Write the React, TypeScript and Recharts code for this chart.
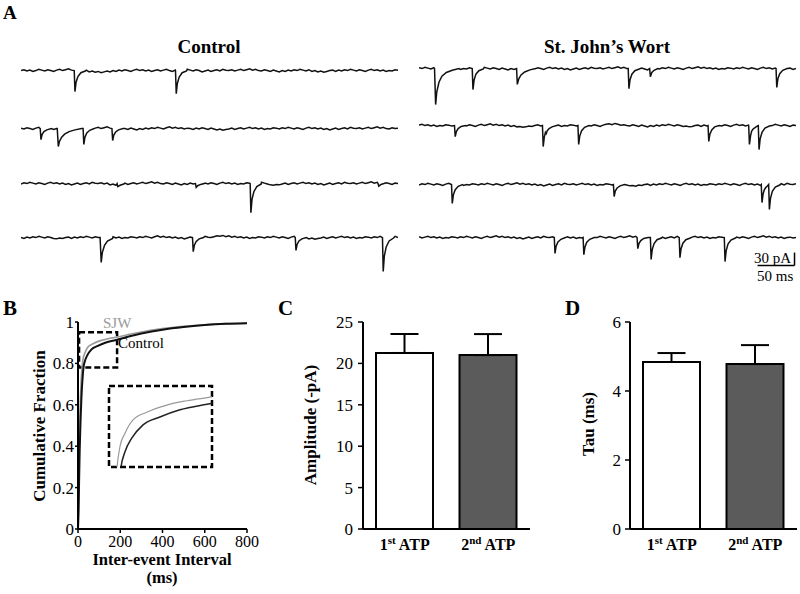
import React from 'react';
import {
  LineChart,
  Line,
  XAxis,
  YAxis,
  ReferenceArea,
  ReferenceLine,
  BarChart,
  Bar,
  ErrorBar,
  Cell,
} from 'recharts';

const FONT = "'Liberation Serif', 'Times New Roman', Times, serif";

/* ---------------- Panel A: sample traces (pA vs ms) ---------------- */
const TRACE_MS = 510;

const noiseCtl1 = [
  0, 2, -1, 1, -2, 0, 3, 1, -1, 2, 0, -2, 1, 3, 0, 2, 4, 1, 5, 3, 2, -1, 1, -3, -1, -4, -2, -5, -3, -1,
  -3, 0, -2, 1, -1, 2, 0, -2, 1, 3, 0, 2, -1, 1, -2, 0, 2, -1, 1, 3, 0, -2, 1, -1, 2, 0, 3, 1, -1, 2,
  0, -3, -1, 1, -2, 0, 2, -1, 3, 1, 0, 2, -1, 1, 3, 0, 2, 4, 1, 3, 0, -1, 2, 0, -2, 1, -1, -3, 0, -2,
  1, -1, 2, 0, 3, 1, -1, 2, -2, 0, -3, -1, -4, -2, 0, 1, -2, 1, -1, 2, 0, 3, 1, -1, 2, 0, -2, 1, 3, 0,
  2, -1, 1, -2, 0, -1, 2, 1,
];
const noiseCtl2 = [
  1, -1, 2, 0, -2, 1, 3, 0, 2, -1, 1, -2, 0, -3, -1, 1, -2, 0, 2, -1, 3, 1, 0, 2, -1, 1, 3, 0, 2, 4,
  1, 3, 0, -1, 2, 0, -2, 1, -1, -3, 0, -2, 1, -1, 2, 0, 3, 1, -1, 2, 4, 1, 3, 0, 2, -1, 1, 0, -2, 1,
  -1, 2, 0, -2, 1, -1, -3, -1, -4, -2, -1, 1, -2, 0, 2, -1, 1, 3, 0, 2, -1, 1, -2, 0, -1, 2, 1, -1, 2, 0,
  3, 1, -1, 2, 0, -2, 1, 3, 0, 2, -1, 1, -2, 0, -3, -1, 1, -2, 0, 2, -1, 3, 1, 0, 2, -1, 1, 3, 0, 2,
  4, 1, 3, 0, -1, 2, 0, 1,
];
const noiseCtl3 = [
  -1, 2, 0, 3, 1, -1, 2, 0, -2, 1, 3, 0, 2, -1, 1, -2, 0, -3, -1, 1, -2, 0, 2, -1, 3, 1, 0, 2, -1, 1,
  -3, -1, -4, -2, -1, 1, -2, 0, 2, -1, 1, 3, 0, 2, 4, 1, 3, 0, -1, 2, 0, -2, 1, -1, -3, 0, -2, 1, -1, 2,
  0, 3, 1, -1, 2, 0, -2, 1, 3, 0, 2, -1, 1, -2, 0, -1, 2, 1, -1, 2, 0, 3, 1, -1, -3, -4, -2, -3, -1, 1,
  -2, 0, 2, -1, 1, 3, 0, 2, -1, 1, -2, 0, -3, -1, 1, -2, 0, 2, -1, 3, 1, 0, 2, -1, 1, 3, 0, 2, 4, 1,
  3, 0, -1, 2, 0, -2, 1, 0,
];
const noiseCtl4 = [
  0, -2, 1, -1, 2, 0, 3, 1, -1, 2, 0, -2, -3, -1, -2, 0, 1, -2, 1, -1, 2, 0, 3, 1, -1, 2, 0, -2, 1, 3,
  0, 2, -1, 1, -2, 0, -1, 2, 1, -1, 2, 0, 3, 1, -1, 2, 4, 1, 3, 0, 2, -1, 1, -2, 0, -3, -1, 1, -2, 0,
  2, -1, 3, 1, 0, 2, 4, 3, 5, 2, 4, 1, 3, 0, 2, -1, 1, -2, 0, -1, 2, 1, -1, 2, 0, 3, 1, -1, 2, 0,
  -2, 1, 3, 0, 2, -1, 1, -3, -1, -4, -2, -1, 1, -2, 0, 2, -1, 1, 3, 0, 2, -1, 1, -2, 0, -1, 2, 1, -1, 2,
  0, 3, 4, 2, 5, 1, 3, 0,
];
const noiseSjw1 = [
  2, 0, 3, 1, -1, 2, 0, -2, 1, 3, 0, 2, -1, 1, -2, 0, -1, 2, 1, -1, 2, 0, 3, 1, -1, 2, 0, -2, 1, -1,
  -3, 0, -2, 1, -1, 2, 0, 3, 1, -1, 2, 0, -2, 1, 3, 0, 2, -1, 1, -2, 0, -3, -1, 1, -2, 0, 2, -1, 3, 1,
  0, 2, -1, 1, 3, 0, 2, 4, 1, 3, 0, -1, 2, 0, -2, 1, -1, -3, 0, -2, 1, -1, 2, 0, 3, 1, -1, 2, 0, -2,
  1, 3, 0, 2, 4, 1, 3, 0, 2, -1, 1, -2, 0, -1, 2, 1, -1, 2, 0, 3, 1, -1, 2, 0, -2, 1, 3, 0, 2, -1,
  1, -2, 0, -3, -1, 1, -2, 0,
];
const noiseSjw2 = [
  1, 3, 0, 2, -1, 1, -2, 0, -1, 2, 1, -1, 2, 0, 3, 1, -1, 2, 0, -2, 1, 3, 0, 2, 4, 1, 3, 0, 2, -1,
  1, -2, 0, -3, -2, -4, -3, -1, -2, 0, 2, -1, 1, 3, 0, 2, -1, 1, -2, 0, -1, 2, 1, -1, 2, 0, 3, 1, -1, 2,
  0, -2, 1, 3, 4, 2, 5, 3, 1, 2, 0, -1, 2, 0, -2, 1, -1, -3, 0, -2, 1, -1, 2, 0, 3, 1, -1, 2, 0, -2,
  -1, -3, -2, 0, 1, -2, 1, -1, 2, 0, 3, 1, -1, 2, 0, -2, 1, 3, 0, 2, -1, 1, -2, 0, -1, 2, 1, -1, 2, 0,
  3, 1, -1, 2, 0, -2, 1, 0,
];
const noiseSjw3 = [
  -1, 2, 0, 3, 1, -1, 2, 0, -2, 1, 3, 0, 2, -1, 1, -2, 0, -1, 2, 1, -1, 2, 0, 3, 1, -1, 2, 0, -2, 1,
  3, 0, 2, 4, 1, 3, 0, 2, -1, 1, -2, 0, -3, -1, 1, -2, 0, 2, -1, 3, 1, 0, 2, -1, 1, 3, 0, 2, -1, 1,
  -2, 0, -1, 2, 1, -1, 2, 0, 3, 1, -1, -3, -2, -4, -1, -2, 0, 1, -2, 1, -1, 2, 0, 3, 1, -1, 2, 0, -2, 1,
  3, 0, 2, -1, 1, -2, 0, -1, 2, 1, -1, 2, 0, 3, 1, -1, 2, 0, -2, 1, 3, 0, 2, -1, 1, -2, 0, -3, -1, 1,
  -2, 0, 2, -1, 3, 1, 0, 2,
];
const noiseSjw4 = [
  2, -1, 1, 3, 0, 2, -1, 1, -2, 0, -1, 2, 1, -1, 2, 0, 3, 1, -1, 2, 0, -2, 1, 3, 0, 2, 4, 1, 3, 0,
  2, -1, 1, -2, 0, -3, -1, 1, -2, 0, 2, -1, 3, 1, 0, 2, -1, 1, 3, 0, 2, -1, 1, -2, 0, -1, 2, 1, -1, 2,
  0, 3, 1, -1, 2, 0, -2, 1, 3, 0, 2, 4, 1, 3, 0, 2, -1, 1, -2, 0, -3, -1, 1, -2, 0, 2, -1, 3, 1, 0,
  2, -1, 1, 3, 0, 2, -1, 1, -2, 0, -1, 2, 1, -1, 2, 0, 3, 1, -1, 2, 0, -2, 1, 3, 0, 2, 4, 1, 3, 0,
  2, -1, 1, -2, 0, 1, -1, 0,
];

// spontaneous events: [ms, pA] points
const spikesCtl1 = [
  [[72, 0], [73, -49], [74.5, -27], [77, -14], [81, -5], [87, -1]],
  [[209, 0], [210, -54], [211.5, -30], [214, -15], [218, -5], [224, -1]],
];
const spikesCtl2 = [
  [[26, 0], [27, -26], [28.5, -14], [31, -7], [35, -3], [41, 0]],
  [[49, 0], [50.5, -42], [52, -30], [55, -20], [59, -13], [65, -7], [73, -3], [82, 0]],
  [[84, 0], [85, -37], [86.5, -20], [89, -10], [93, -4], [99, 0]],
  [[123, 0], [124, -28], [125.5, -15], [128, -8], [132, -3], [138, 0]],
];
const spikesCtl3 = [
  [[130, 0], [131, -7], [134, -4], [139, -1]],
  [[236, 0], [237, -9], [239, -5], [243, -2], [248, 0]],
  [[310, 0], [311, -68], [312.5, -37], [315, -19], [319, -7], [325, -1]],
  [[483, 0], [484, -6], [487, -2], [491, 0]],
];
const spikesCtl4 = [
  [[107, 0], [108.5, -58], [110, -35], [113, -18], [117, -8], [124, -2]],
  [[232, 0], [233, -33], [234.5, -18], [237, -9], [241, -3], [247, 0]],
  [[371, 0], [372, -30], [373.5, -16], [376, -8], [380, -3], [386, 0]],
  [[489, 0], [490, -79], [491.5, -43], [494, -22], [498, -8], [504, -1]],
];
const spikesSjw1 = [
  [[21, 0], [22.5, -84], [24, -55], [27, -32], [31, -18], [37, -9], [45, -4], [54, 0]],
  [[72, 0], [73, -49], [74.5, -27], [77, -13], [81, -5], [87, -1]],
  [[132, 0], [133, -37], [135, -24], [138, -15], [143, -8], [150, -3], [158, 0]],
  [[283, 0], [284, -47], [285.5, -26], [288, -13], [292, -5], [298, -1]],
  [[312, 0], [313, -19], [315, -9], [318, -4], [323, 0]],
  [[483, 0], [484, -44], [485.5, -24], [488, -12], [492, -4], [498, 0]],
];
const spikesSjw2 = [
  [[48, 0], [49, -26], [50.5, -14], [53, -7], [57, -2], [63, 0]],
  [[167, 0], [168, -49], [169.5, -27], [171, -16], [172, -19], [173.5, -12], [176, -7], [180, -3], [186, 0]],
  [[215, 0], [216, -44], [217.5, -24], [220, -12], [224, -4], [230, 0]],
  [[391, 0], [392, -37], [393.5, -20], [396, -10], [400, -3], [406, 0]],
  [[446, 0], [447, -44], [448.5, -24], [450, -13], [452, -8], [455, -4], [457, -2]],
  [[459, 0], [460, -56], [461.5, -31], [464, -16], [468, -6], [474, -1]],
];
const spikesSjw3 = [
  [[44, 0], [45, -44], [46.5, -24], [49, -12], [53, -4], [59, 0]],
  [[263, 0], [264, -28], [265.5, -15], [268, -8], [272, -3], [278, 0]],
  [[463, 0], [464, -42], [465.5, -22], [467, -13], [469, -7], [471, -4]],
  [[473, 0], [474, -58], [475.5, -32], [478, -16], [482, -6], [488, -1]],
];
const spikesSjw4 = [
  [[183, 0], [184, -37], [185.5, -20], [188, -10], [192, -4], [198, 0]],
  [[222, 0], [223, -40], [224.5, -22], [227, -11], [231, -4], [237, 0]],
  [[295, 0], [296, -26], [297.5, -14], [300, -7], [304, -2], [310, 0]],
  [[313, 0], [314, -51], [315.5, -28], [318, -14], [322, -5], [328, -1]],
  [[352, 0], [353, -47], [354.5, -26], [357, -13], [361, -5], [367, -1]],
  [[413, 0], [414, -56], [415.5, -31], [418, -15], [422, -6], [428, -1]],
];

// scale bar: 50 ms x 30 pA
const scaleBarMs = [458, 508];
const scaleBarPA = [-35, -65];

type Pt = { t: number; v: number };
function buildTrace(noise: number[], spikes: number[][][]): Pt[] {
  const pts: Pt[] = [];
  const step = TRACE_MS / (noise.length - 1);
  noise.forEach((v, i) => {
    const t = i * step;
    const inside = spikes.some((s) => t >= s[0][0] && t <= s[s.length - 1][0]);
    if (!inside) pts.push({ t, v });
  });
  spikes.forEach((s) => s.forEach(([t, v]) => pts.push({ t, v })));
  pts.sort((a, b) => a.t - b.t);
  return pts;
}

const controlTraces = [
  buildTrace(noiseCtl1, spikesCtl1),
  buildTrace(noiseCtl2, spikesCtl2),
  buildTrace(noiseCtl3, spikesCtl3),
  buildTrace(noiseCtl4, spikesCtl4),
];
const sjwTraces = [
  buildTrace(noiseSjw1, spikesSjw1),
  buildTrace(noiseSjw2, spikesSjw2),
  buildTrace(noiseSjw3, spikesSjw3),
  buildTrace(noiseSjw4, spikesSjw4),
];

/* ---------------- Panel B: cumulative inter-event interval ---------------- */
const sjwIntervalMs = [0, 2, 4, 6, 9, 12, 15, 19, 24, 33, 47, 71, 106, 141, 185, 250, 300, 400, 500, 600, 700, 800];
const sjwFraction = [0, 0.1, 0.25, 0.4, 0.55, 0.65, 0.72, 0.78, 0.822, 0.851, 0.879, 0.895, 0.91, 0.919, 0.927, 0.942, 0.952, 0.968, 0.979, 0.987, 0.992, 0.995];
const ctlIntervalMs = [0, 3, 5, 8, 12, 16, 21, 26, 33, 45, 64, 94, 129, 185, 250, 300, 400, 500, 600, 700, 800];
const ctlFraction = [0, 0.1, 0.22, 0.38, 0.52, 0.63, 0.72, 0.78, 0.812, 0.841, 0.868, 0.885, 0.9, 0.914, 0.932, 0.944, 0.963, 0.976, 0.985, 0.991, 0.994];
const intervalTicks = [0, 200, 400, 600, 800];
const fractionTicks = [0, 0.2, 0.4, 0.6, 0.8, 1];
const zoomBoxMs = [5, 185];
const zoomBoxFraction = [0.78, 0.95];

const sjwCdf = sjwIntervalMs.map((t, i) => ({ t, f: sjwFraction[i] }));
const ctlCdf = ctlIntervalMs.map((t, i) => ({ t, f: ctlFraction[i] }));

/* ---------------- Panels C & D ---------------- */
const atpCategories = ['1st ATP', '2nd ATP'];
const amplitudeMean = [21.26, 21.0];
const amplitudeSem = [2.29, 2.54];
const amplitudeTicks = [0, 5, 10, 15, 20, 25];
const tauMean = [4.84, 4.78];
const tauSem = [0.26, 0.55];
const tauTicks = [0, 2, 4, 6];
const barFills = ['#ffffff', '#5b5b5b'];

const ampData = atpCategories.map((name, i) => ({ name, v: amplitudeMean[i], e: [0, amplitudeSem[i]] }));
const tauData = atpCategories.map((name, i) => ({ name, v: tauMean[i], e: [0, tauSem[i]] }));

/* ---------------- components ---------------- */
const TRACE_W = 377;
const TRACE_H = 60;
const TRACE_DOMAIN: [number, number] = [-120, 20];
const baseOffset = (TRACE_DOMAIN[1] / (TRACE_DOMAIN[1] - TRACE_DOMAIN[0])) * TRACE_H;

function Trace({ data, left, baseY, scaleBar }: { data: Pt[]; left: number; baseY: number; scaleBar?: boolean }) {
  return (
    <div style={{ position: 'absolute', left, top: baseY - baseOffset, width: TRACE_W, height: TRACE_H }}>
      <LineChart width={TRACE_W} height={TRACE_H} data={data} margin={{ top: 0, right: 0, bottom: 0, left: 0 }}>
        <XAxis type="number" dataKey="t" domain={[0, TRACE_MS]} hide />
        <YAxis type="number" domain={TRACE_DOMAIN} hide />
        <Line
          dataKey="v"
          type="linear"
          stroke="#111"
          strokeWidth={1.5}
          dot={false}
          isAnimationActive={false}
        />
        {scaleBar && (
          <ReferenceLine
            segment={[
              { x: scaleBarMs[1], y: scaleBarPA[0] },
              { x: scaleBarMs[1], y: scaleBarPA[1] },
            ]}
            stroke="#000"
            strokeWidth={1.5}
          />
        )}
        {scaleBar && (
          <ReferenceLine
            segment={[
              { x: scaleBarMs[0], y: scaleBarPA[1] },
              { x: scaleBarMs[1], y: scaleBarPA[1] },
            ]}
            stroke="#000"
            strokeWidth={1.5}
          />
        )}
      </LineChart>
    </div>
  );
}

const tickStyle = { fill: '#000', fontSize: 17, fontFamily: FONT };
const xTickStyle = { fill: '#000', fontSize: 16, fontFamily: FONT };
const axisLineStyle = { stroke: '#000', strokeWidth: 2 };
const tickLineStyle = { stroke: '#000', strokeWidth: 1.5 };

function CatTick(props: any) {
  const { x, y, payload } = props;
  const m = /^(\d+)(st|nd|rd|th) (.*)$/.exec(String(payload.value)) || ['', String(payload.value), '', ''];
  return (
    <text x={x} y={y + 21} textAnchor="middle" fontFamily={FONT} fontWeight="bold" fontSize={16} fill="#000">
      <tspan>{m[1]}</tspan>
      <tspan dy={-6} fontSize={11}>
        {m[2]}
      </tspan>
      <tspan dy={6}>{' ' + m[3]}</tspan>
    </text>
  );
}

function BarPanel({
  data,
  left,
  yAxisWidth,
  rightMargin,
  domain,
  ticks,
  tickMargin,
}: {
  data: { name: string; v: number; e: number[] }[];
  left: number;
  yAxisWidth: number;
  rightMargin: number;
  domain: [number, number];
  ticks: number[];
  tickMargin: number;
}) {
  return (
    <div style={{ position: 'absolute', left, top: 290 }}>
      <BarChart
        width={270}
        height={300}
        data={data}
        margin={{ top: 32, right: rightMargin, bottom: 0, left: 0 }}
        barSize={57}
      >
        <XAxis
          dataKey="name"
          height={61}
          tickLine={false}
          tickSize={0}
          tickMargin={0}
          axisLine={axisLineStyle}
          tick={<CatTick />}
          interval={0}
        />
        <YAxis
          type="number"
          domain={domain}
          ticks={ticks}
          interval={0}
          width={yAxisWidth}
          tickSize={5}
          tickMargin={tickMargin}
          axisLine={axisLineStyle}
          tickLine={tickLineStyle}
          tick={tickStyle}
        />
        <Bar dataKey="v" stroke="#000" strokeWidth={2} isAnimationActive={false}>
          {data.map((d, i) => (
            <Cell key={d.name} fill={barFills[i]} />
          ))}
          <ErrorBar dataKey="e" direction="y" width={14} stroke="#000" strokeWidth={2} />
        </Bar>
      </BarChart>
    </div>
  );
}

export default function App() {
  const ctlBase = [71, 129, 184, 238];
  const sjwBase = [69, 126, 185, 238];
  return (
    <div
      style={{
        position: 'absolute',
        left: 0,
        top: 0,
        width: 800,
        height: 594,
        background: '#fff',
        overflow: 'hidden',
        fontFamily: FONT,
      }}
    >
      {controlTraces.map((d, i) => (
        <Trace key={'c' + i} data={d} left={21} baseY={ctlBase[i]} />
      ))}
      {sjwTraces.map((d, i) => (
        <Trace key={'s' + i} data={d} left={419} baseY={sjwBase[i]} scaleBar={i === 3} />
      ))}

      {/* Panel B */}
      <div style={{ position: 'absolute', left: 0, top: 290 }}>
        <LineChart width={270} height={300} margin={{ top: 32, right: 23, bottom: 0, left: 0 }}>
          <XAxis
            type="number"
            dataKey="t"
            domain={[0, 800]}
            ticks={intervalTicks}
            interval={0}
            height={61}
            tickSize={4}
            tickMargin={3}
            axisLine={axisLineStyle}
            tickLine={tickLineStyle}
            tick={xTickStyle}
          />
          <YAxis
            type="number"
            domain={[0, 1]}
            ticks={fractionTicks}
            interval={0}
            width={78}
            tickSize={3}
            tickMargin={1}
            axisLine={axisLineStyle}
            tickLine={tickLineStyle}
            tick={tickStyle}
          />
          <Line
            data={sjwCdf}
            dataKey="f"
            type="monotone"
            stroke="#9a9a9a"
            strokeWidth={1.6}
            dot={false}
            isAnimationActive={false}
          />
          <Line
            data={ctlCdf}
            dataKey="f"
            type="monotone"
            stroke="#111"
            strokeWidth={2}
            dot={false}
            isAnimationActive={false}
          />
          <ReferenceArea
            x1={zoomBoxMs[0]}
            x2={zoomBoxMs[1]}
            y1={zoomBoxFraction[0]}
            y2={zoomBoxFraction[1]}
            fill="none"
            fillOpacity={0}
            stroke="#000"
            strokeWidth={2.5}
            strokeDasharray="6 3"
          />
        </LineChart>
      </div>

      {/* Panel B inset */}
      <div style={{ position: 'absolute', left: 106, top: 383 }}>
        <LineChart width={109} height={87} margin={{ top: 3, right: 3, bottom: 3, left: 3 }}>
          <XAxis type="number" dataKey="t" domain={zoomBoxMs} allowDataOverflow hide />
          <YAxis type="number" domain={zoomBoxFraction} allowDataOverflow hide />
          <Line
            data={sjwCdf}
            dataKey="f"
            type="monotone"
            stroke="#999"
            strokeWidth={1.2}
            dot={false}
            isAnimationActive={false}
          />
          <Line
            data={ctlCdf}
            dataKey="f"
            type="monotone"
            stroke="#222"
            strokeWidth={1.5}
            dot={false}
            isAnimationActive={false}
          />
          <ReferenceArea
            x1={zoomBoxMs[0]}
            x2={zoomBoxMs[1]}
            y1={zoomBoxFraction[0]}
            y2={zoomBoxFraction[1]}
            fill="none"
            fillOpacity={0}
            stroke="#000"
            strokeWidth={2.5}
            strokeDasharray="6 3"
          />
        </LineChart>
      </div>

      {/* Panel C */}
      <BarPanel
        data={ampData}
        left={270}
        yAxisWidth={93}
        rightMargin={10}
        domain={[0, 25]}
        ticks={amplitudeTicks}
        tickMargin={5}
      />
      {/* Panel D */}
      <BarPanel
        data={tauData}
        left={530}
        yAxisWidth={100}
        rightMargin={3}
        domain={[0, 6]}
        ticks={tauTicks}
        tickMargin={4}
      />

      {/* Text overlay */}
      <svg
        width={800}
        height={594}
        style={{ position: 'absolute', left: 0, top: 0, pointerEvents: 'none' }}
        fontFamily={FONT}
      >
        <text x={3} y={19} fontSize={19} fontWeight="bold">A</text>
        <text x={209} y={53} fontSize={19} fontWeight="bold" textAnchor="middle">Control</text>
        <text x={607} y={53} fontSize={19} fontWeight="bold" textAnchor="middle">St. John’s Wort</text>
        <text x={754} y={263} fontSize={15}>30 pA</text>
        <text x={757} y={281} fontSize={15}>50 ms</text>

        <text x={3} y={315} fontSize={21} fontWeight="bold">B</text>
        <text x={278} y={315} fontSize={21} fontWeight="bold">C</text>
        <text x={565} y={315} fontSize={21} fontWeight="bold">D</text>

        <text x={103} y={328} fontSize={15} fill="#999">SJW</text>
        <text x={118} y={348} fontSize={15}>Control</text>

        <text x={162} y={565} fontSize={16.5} fontWeight="bold" textAnchor="middle">
          <tspan x={162}>Inter-event Interval</tspan>
          <tspan x={162} dy={18}>(ms)</tspan>
        </text>
        <text transform="translate(45,426) rotate(-90)" fontSize={17} fontWeight="bold" textAnchor="middle">
          Cumulative Fraction
        </text>
        <text transform="translate(316,425) rotate(-90)" fontSize={17} fontWeight="bold" textAnchor="middle">
          Amplitude (-pA)
        </text>
        <text transform="translate(594,424) rotate(-90)" fontSize={17} fontWeight="bold" textAnchor="middle">
          Tau (ms)
        </text>
      </svg>
    </div>
  );
}
